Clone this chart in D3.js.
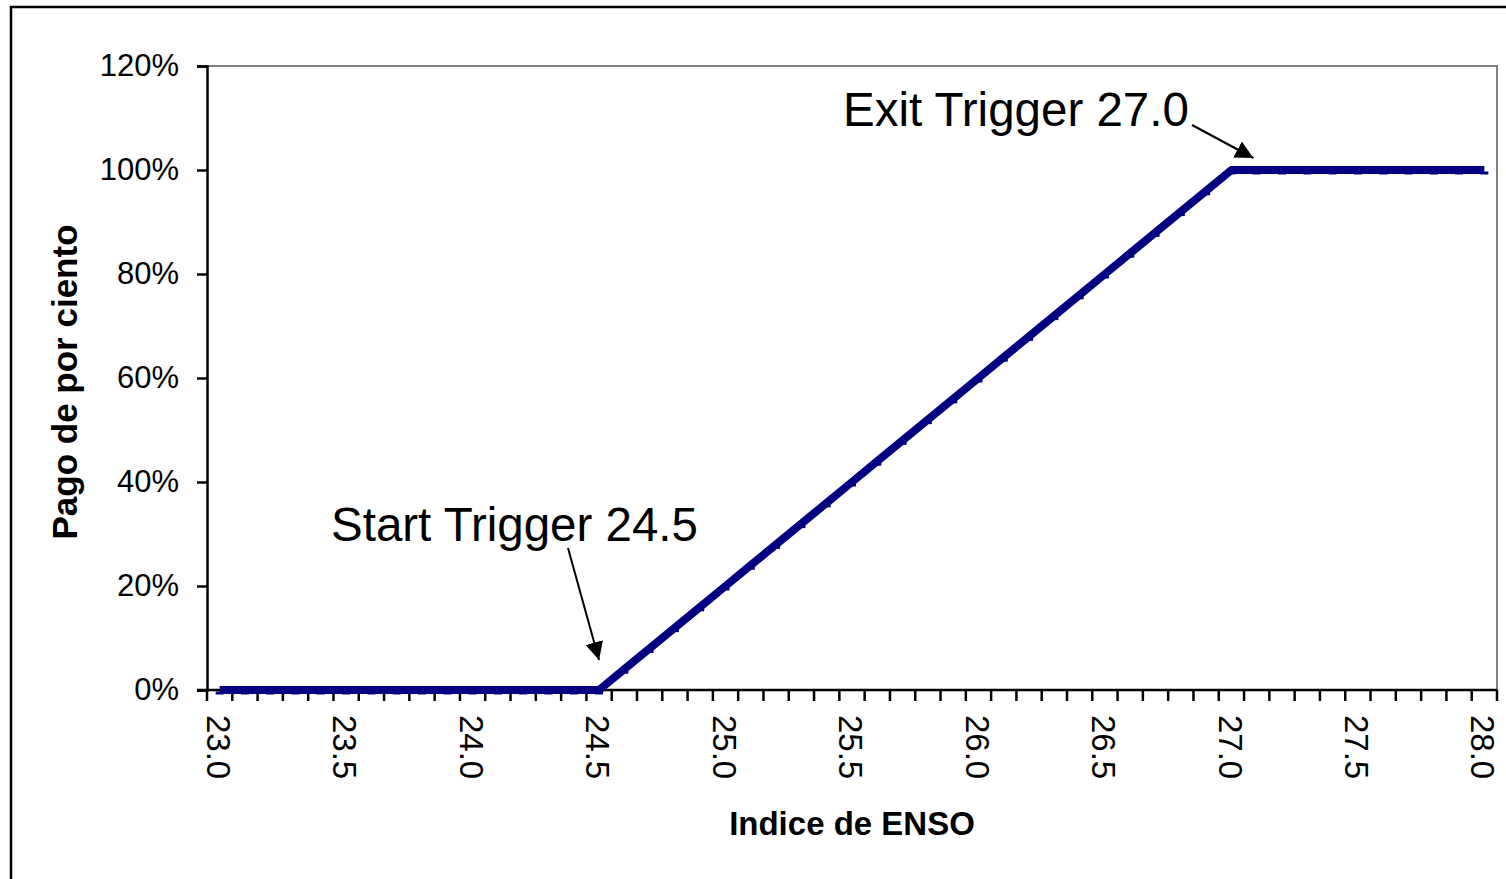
<!DOCTYPE html>
<html>
<head>
<meta charset="utf-8">
<script src="https://cdn.jsdelivr.net/npm/d3@7/dist/d3.min.js"></script>
<style>
  html, body { margin: 0; padding: 0; background: #fff; }
  svg { display: block; font-family: Arial, "Liberation Sans", sans-serif; }
</style>
</head>
<body>
<svg id="chart" width="1506" height="879"></svg>
<script>
'use strict';

// ENSO index categories (x axis)
const enso = ['23.0', '23.1', '23.2', '23.3', '23.4', '23.5', '23.6', '23.7', '23.8', '23.9',
  '24.0', '24.1', '24.2', '24.3', '24.4', '24.5', '24.6', '24.7', '24.8', '24.9',
  '25.0', '25.1', '25.2', '25.3', '25.4', '25.5', '25.6', '25.7', '25.8', '25.9',
  '26.0', '26.1', '26.2', '26.3', '26.4', '26.5', '26.6', '26.7', '26.8', '26.9',
  '27.0', '27.1', '27.2', '27.3', '27.4', '27.5', '27.6', '27.7', '27.8', '27.9', '28.0'];

// payout share for each category
const payout = [0, 0, 0, 0, 0, 0, 0, 0, 0, 0,
  0, 0, 0, 0, 0, 0, 0.04, 0.08, 0.12, 0.16,
  0.20, 0.24, 0.28, 0.32, 0.36, 0.40, 0.44, 0.48, 0.52, 0.56,
  0.60, 0.64, 0.68, 0.72, 0.76, 0.80, 0.84, 0.88, 0.92, 0.96,
  1.00, 1.00, 1.00, 1.00, 1.00, 1.00, 1.00, 1.00, 1.00, 1.00, 1.00];

const yTicks = [0, 0.2, 0.4, 0.6, 0.8, 1.0, 1.2];
const xLabels = ['23.0', '23.5', '24.0', '24.5', '25.0', '25.5', '26.0', '26.5', '27.0', '27.5', '28.0'];

const svg = d3.select('#chart');

// plot area
const plotL = 207, plotR = 1497, plotT = 66, plotB = 690;

const x = d3.scaleBand().domain(enso).range([plotL, plotR]);
const xc = d => x(d) + x.bandwidth() / 2;
const y = d3.scaleLinear().domain([0, 1.2]).range([plotB, plotT]);

// chart area border
svg.append('rect')
  .attr('x', 11).attr('y', 7)
  .attr('width', 1600).attr('height', 1000)
  .attr('fill', '#fff')
  .attr('stroke', '#000')
  .attr('stroke-width', 2.5);

// plot area border (grey top/right)
svg.append('path')
  .attr('d', `M${plotL},${plotT}H${plotR}V${plotB}`)
  .attr('fill', 'none')
  .attr('stroke', '#808080')
  .attr('stroke-width', 2);

// y axis
const yAxis = svg.append('g').attr('transform', `translate(${plotL},0)`)
  .call(d3.axisLeft(y).tickValues(yTicks).tickFormat(d3.format('.0%')).tickSize(10).tickPadding(18));
yAxis.select('.domain').attr('stroke', '#000').attr('stroke-width', 2.5);
yAxis.selectAll('.tick line').attr('stroke', '#000').attr('stroke-width', 2.5);
yAxis.selectAll('.tick text')
  .attr('font-size', 31)
  .attr('font-family', 'Arial, "Liberation Sans", sans-serif')
  .attr('fill', '#000');

// x axis line
svg.append('line')
  .attr('x1', plotL - 10).attr('x2', plotR)
  .attr('y1', plotB).attr('y2', plotB)
  .attr('stroke', '#000').attr('stroke-width', 2.5);

// x ticks at band boundaries
const tickPos = enso.map(d => x(d)).concat([x.range()[1]]);
svg.append('g').selectAll('line')
  .data(tickPos)
  .join('line')
  .attr('x1', d => d).attr('x2', d => d)
  .attr('y1', plotB).attr('y2', plotB + 11)
  .attr('stroke', '#000').attr('stroke-width', 2.5);

// x labels, rotated to read downward
svg.append('g').selectAll('text')
  .data(xLabels)
  .join('text')
  .attr('transform', d => `translate(${xc(d) - 1},${plotB + 25}) rotate(90)`)
  .attr('dy', '0.36em')
  .attr('text-anchor', 'start')
  .attr('font-size', 33)
  .attr('fill', '#000')
  .text(d => d);

// axis titles
svg.append('text')
  .attr('x', 852).attr('y', 835)
  .attr('text-anchor', 'middle')
  .attr('font-size', 33).attr('font-weight', 'bold')
  .text('Indice de ENSO');

svg.append('text')
  .attr('transform', 'translate(77,382) rotate(-90)')
  .attr('text-anchor', 'middle')
  .attr('font-size', 35).attr('font-weight', 'bold')
  .text('Pago de por ciento');

// payout line
const pts = enso.map((d, i) => [xc(d), y(payout[i])]);
svg.append('path')
  .datum(pts)
  .attr('d', d3.line())
  .attr('fill', 'none')
  .attr('stroke', '#000080')
  .attr('stroke-width', 8)
  .attr('stroke-linejoin', 'round');

// small dash markers
svg.append('g').selectAll('line')
  .data(pts)
  .join('line')
  .attr('x1', d => d[0] - 4).attr('x2', d => d[0] + 4)
  .attr('y1', d => d[1] + 3).attr('y2', d => d[1] + 3)
  .attr('stroke', '#000080').attr('stroke-width', 3);

// arrowhead
svg.append('defs').append('marker')
  .attr('id', 'head')
  .attr('viewBox', '0 0 10 10')
  .attr('refX', 10).attr('refY', 5)
  .attr('markerWidth', 18).attr('markerHeight', 18)
  .attr('markerUnits', 'userSpaceOnUse')
  .attr('orient', 'auto')
  .append('path').attr('d', 'M0,0L10,5L0,10Z').attr('fill', '#000');

// annotations
const startX = xc('24.5'), startY = y(0);
svg.append('text')
  .attr('x', 331).attr('y', 541)
  .attr('font-size', 47.5)
  .text('Start Trigger 24.5');
svg.append('line')
  .attr('x1', 568).attr('y1', 548)
  .attr('x2', startX).attr('y2', startY - 30)
  .attr('stroke', '#000').attr('stroke-width', 2)
  .attr('marker-end', 'url(#head)');

const exitX = xc('27.0'), exitY = y(1);
svg.append('text')
  .attr('x', 843).attr('y', 126)
  .attr('font-size', 47.5)
  .text('Exit Trigger 27.0');
svg.append('line')
  .attr('x1', 1192).attr('y1', 125)
  .attr('x2', exitX + 22).attr('y2', exitY - 12)
  .attr('stroke', '#000').attr('stroke-width', 2)
  .attr('marker-end', 'url(#head)');
</script>
</body>
</html>
